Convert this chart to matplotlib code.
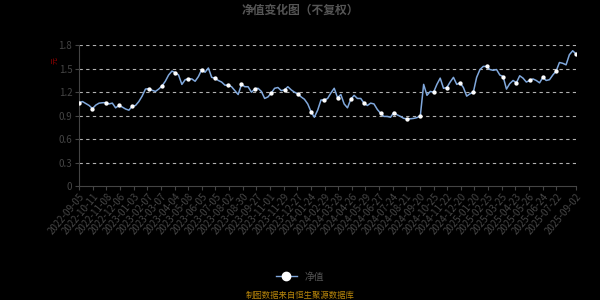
import numpy as np
import matplotlib
matplotlib.use('Agg')
import matplotlib.pyplot as plt
from matplotlib.lines import Line2D

plt.rcParams['font.family'] = ['Noto Sans CJK SC', 'DejaVu Sans']

# ---- data: roughly weekly samples ----
nav = [1.067, 1.08, 1.055, 1.03, 0.99, 1.035, 1.06, 1.065, 1.067, 1.05,
       1.06, 1.00, 1.03, 1.01, 0.985, 0.97, 1.02, 1.03, 1.08, 1.15,
       1.24, 1.245, 1.225, 1.21, 1.24, 1.28, 1.34, 1.42, 1.47, 1.45,
       1.42, 1.30, 1.36, 1.37, 1.37, 1.34, 1.40, 1.49, 1.455, 1.51,
       1.39, 1.38, 1.35, 1.33, 1.29, 1.29, 1.27, 1.22, 1.17, 1.30,
       1.27, 1.27, 1.20, 1.24, 1.25, 1.21, 1.12, 1.14, 1.19, 1.25,
       1.26, 1.22, 1.23, 1.27, 1.23, 1.20, 1.18, 1.14, 1.11, 1.05,
       0.95, 0.88, 0.97, 1.10, 1.10, 1.12, 1.19, 1.25, 1.13, 1.17,
       1.05, 1.00, 1.11, 1.16, 1.12, 1.12, 1.06, 1.03, 1.06, 1.05,
       0.98, 0.93, 0.89, 0.89, 0.88, 0.94, 0.91, 0.89, 0.865, 0.86,
       0.86, 0.865, 0.875, 0.90, 1.30, 1.16, 1.21, 1.20, 1.30, 1.38,
       1.25, 1.26, 1.33, 1.39, 1.30, 1.32, 1.26, 1.15, 1.18, 1.20,
       1.39, 1.49, 1.53, 1.53, 1.49, 1.48, 1.49, 1.42, 1.40, 1.24,
       1.31, 1.35, 1.32, 1.41, 1.38, 1.33, 1.35, 1.37, 1.35, 1.32,
       1.39, 1.35, 1.36, 1.42, 1.47, 1.58, 1.57, 1.55, 1.68, 1.73,
       1.69]
n_days = 730
x = np.linspace(0, n_days - 1, len(nav))

tick_labels = ['2022-09-05', '2022-10-11', '2022-11-08', '2022-12-06', '2023-01-03',
               '2023-02-07', '2023-03-07', '2023-04-04', '2023-05-08', '2023-06-05',
               '2023-07-05', '2023-08-02', '2023-08-30', '2023-09-27', '2023-11-01',
               '2023-11-29', '2023-12-27', '2024-01-24', '2024-02-29', '2024-03-28',
               '2024-04-26', '2024-05-29', '2024-06-27', '2024-07-24', '2024-08-21',
               '2024-09-20', '2024-10-25', '2024-11-22', '2024-12-20', '2025-01-20',
               '2025-02-25', '2025-03-25', '2025-04-23', '2025-05-26', '2025-06-24',
               '2025-07-22', '2025-09-02']
tick_pos = list(range(0, 701, 20)) + [n_days - 1]
y_ticks = [0, 0.3, 0.6, 0.9, 1.2, 1.5, 1.8]

line_c = '#80a8dc'
grey = '#444444'

fig = plt.figure(figsize=(6, 3), dpi=100, facecolor='black')
ax = fig.add_axes([0.132, 0.38, 0.828, 0.469], facecolor='black')

marks = sorted(set(int(np.argmin(np.abs(x - t))) for t in tick_pos))
ax.plot(x, nav, color=line_c, lw=1.1, marker='o', markevery=marks,
        ms=2.1, mfc='white', mec='white', zorder=3)

ax.set_xlim(0, n_days - 1)
ax.set_ylim(0, 1.8)
ax.set_yticks(y_ticks)
ax.set_yticklabels(['0', '0.3', '0.6', '0.9', '1.2', '1.5', '1.8'])
ax.set_xticks(tick_pos)
ax.set_xticklabels(tick_labels, rotation=50, ha='right', rotation_mode='anchor')
ax.tick_params(axis='x', colors=grey, labelsize=7, length=3, pad=1)
ax.tick_params(axis='y', colors=grey, labelsize=7, length=3, pad=2)
for t in ax.get_xticklabels() + ax.get_yticklabels():
    t.set_color('#454545')

for yv in y_ticks[1:]:
    ax.axhline(yv, color='#b0b0b0', lw=0.8, ls=(0, (3, 3)), zorder=1)

for s in ['top', 'right']:
    ax.spines[s].set_visible(False)
ax.spines['left'].set_color('#444444')
ax.spines['bottom'].set_color('#444444')

fig.text(0.5, 0.965, '净值变化图（不复权）', ha='center', va='center',
         color='#555555', fontsize=8.5, fontweight='bold')
fig.text(0.092, 0.80, '元', ha='center', va='center', color='#8b0000',
         fontsize=5, rotation=90)

h = Line2D([], [], color=line_c, lw=1, marker='o', ms=6, mfc='white', mec='white')
leg = fig.legend([h], ['净值'], loc='center', bbox_to_anchor=(0.5, 0.078),
                 frameon=False, fontsize=7, handlelength=2.2, handletextpad=0.8)
for t in leg.get_texts():
    t.set_color('#555555')

fig.text(0.5, 0.015, '制图数据来自恒生聚源数据库', ha='center', va='center',
         color='#b8860b', fontsize=6)

fig.savefig('out.png', dpi=100, facecolor='black')
